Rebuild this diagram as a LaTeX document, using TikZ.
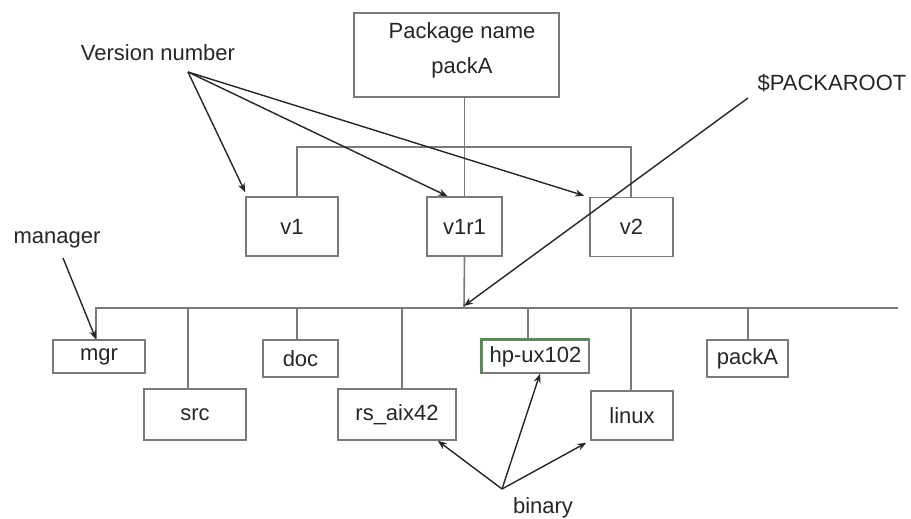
\documentclass[tikz,border=0pt]{standalone}
\usepackage{fontspec}
\setmainfont{Liberation Sans}
\usetikzlibrary{arrows.meta}
\definecolor{boxgray}{HTML}{7A7A7A}
\definecolor{hpgreen}{HTML}{4E8F4E}
\tikzset{
  box/.style={draw=boxgray, line width=0.8pt, inner sep=0pt, anchor=center},
  lbl/.style={inner sep=0pt, anchor=center, font=\fontsize{11}{13}\selectfont, text=black!85},
  tree/.style={draw=boxgray, line width=0.8pt},
  arr/.style={draw=black!85, line width=0.7pt, -{Stealth[length=4.5pt,width=3.5pt]}}
}
\begin{document}
\begin{tikzpicture}[x=0.5pt,y=-0.5pt]
\useasboundingbox (0,0) rectangle (911,519);
% top boxes
\node[box, minimum width=102.5pt, minimum height=42pt] (pkg) at (456.5,55) {};
\node[lbl] (pkgt1) at (462,33) {Package name};
\node[lbl] (pkgt2) at (462,68) {packA};
\node[box, lbl, draw=boxgray, minimum width=46pt, minimum height=29.5pt] (v1) at (292,226.5) {v1};
\node[box, lbl, draw=boxgray, minimum width=37.5pt, minimum height=29.5pt] (v1r1) at (464.5,226.5) {v1r1};
\node[box, lbl, draw=boxgray, minimum width=41.5pt, minimum height=29.5pt] (v2) at (631.5,227) {v2};
% bottom boxes
\node[box, lbl, draw=boxgray, minimum width=46pt, minimum height=16.5pt] (mgr) at (99,356.5) {mgr};
\node[box, lbl, draw=boxgray, minimum width=51pt, minimum height=25.5pt] (src) at (195,414.5) {src};
\node[box, lbl, draw=boxgray, minimum width=37.5pt, minimum height=18.5pt] (doc) at (300.5,358.5) {doc};
\node[box, lbl, draw=boxgray, minimum width=59pt, minimum height=25.5pt] (rs) at (397,414.5) {rs\_aix42};
\node[box, lbl, draw=boxgray, minimum width=53.5pt, minimum height=16.5pt] (hp) at (535.5,356.5) {hp-ux102};
\node[box, lbl, draw=boxgray, minimum width=41pt, minimum height=24.5pt] (linux) at (632,415.5) {linux};
\node[box, lbl, draw=boxgray, minimum width=40.5pt, minimum height=18.5pt] (pa) at (747.5,358.5) {packA};
\draw[hpgreen, line width=0.8pt] (hp.south west) -- (hp.north west) -- (hp.north east);
% labels
\node[lbl] (vn) at (158,53) {Version number};
\node[lbl] (root) at (832,83) {\$PACKAROOT};
\node[lbl] (man) at (57,240) {manager};
\node[lbl] (bin) at (543,508) {binary};
% tree connectors
\coordinate (bl) at (297,147);
\coordinate (br) at (631,147);
\draw[tree] (v1r1.north |- pkg.south) -- (v1r1.north);
\draw[tree] (bl |- v1.north) -- (bl) -- (br) -- (br |- v2.north);
\coordinate (busL) at (96,308);
\coordinate (busR) at (898,308);
\coordinate (busM) at (464,308);
\draw[tree] (busL |- mgr.north) -- (busL) -- (busR);
\draw[tree] (v1r1.south) -- (busM);
\coordinate (tsrc) at (188,308);
\coordinate (tdoc) at (297,308);
\coordinate (trs) at (402,308);
\coordinate (thp) at (528,308);
\coordinate (tlin) at (631,308);
\coordinate (tpa) at (748,308);
\draw[tree] (tsrc) -- (tsrc |- src.north);
\draw[tree] (tdoc) -- (tdoc |- doc.north);
\draw[tree] (trs) -- (trs |- rs.north);
\draw[tree] (thp) -- (thp |- hp.north);
\draw[tree] (tlin) -- (tlin |- linux.north);
\draw[tree] (tpa) -- (tpa |- pa.north);
% annotation arrows
\coordinate (vnp) at (188,72);
\draw[arr] (vnp) -- ([yshift=2pt]v1.north west);
\draw[arr] (vnp) -- ([xshift=-8.5pt]v1r1.north);
\draw[arr] (vnp) -- ([xshift=-2.5pt,yshift=0.5pt]v2.north west);
\coordinate (rootp) at (748,98);
\draw[arr] (rootp) -- ([yshift=1pt]busM);
\coordinate (manp) at (63,258);
\draw[arr] (manp) -- (busL |- mgr.north);
\coordinate (binp) at (502,489);
\draw[arr] (binp) -- ([xshift=-9.5pt]rs.south east);
\draw[arr] (binp) -- ([xshift=2.25pt]hp.south);
\draw[arr] (binp) -- ([xshift=-2pt,yshift=-1pt]linux.south west);
\end{tikzpicture}
\end{document}
